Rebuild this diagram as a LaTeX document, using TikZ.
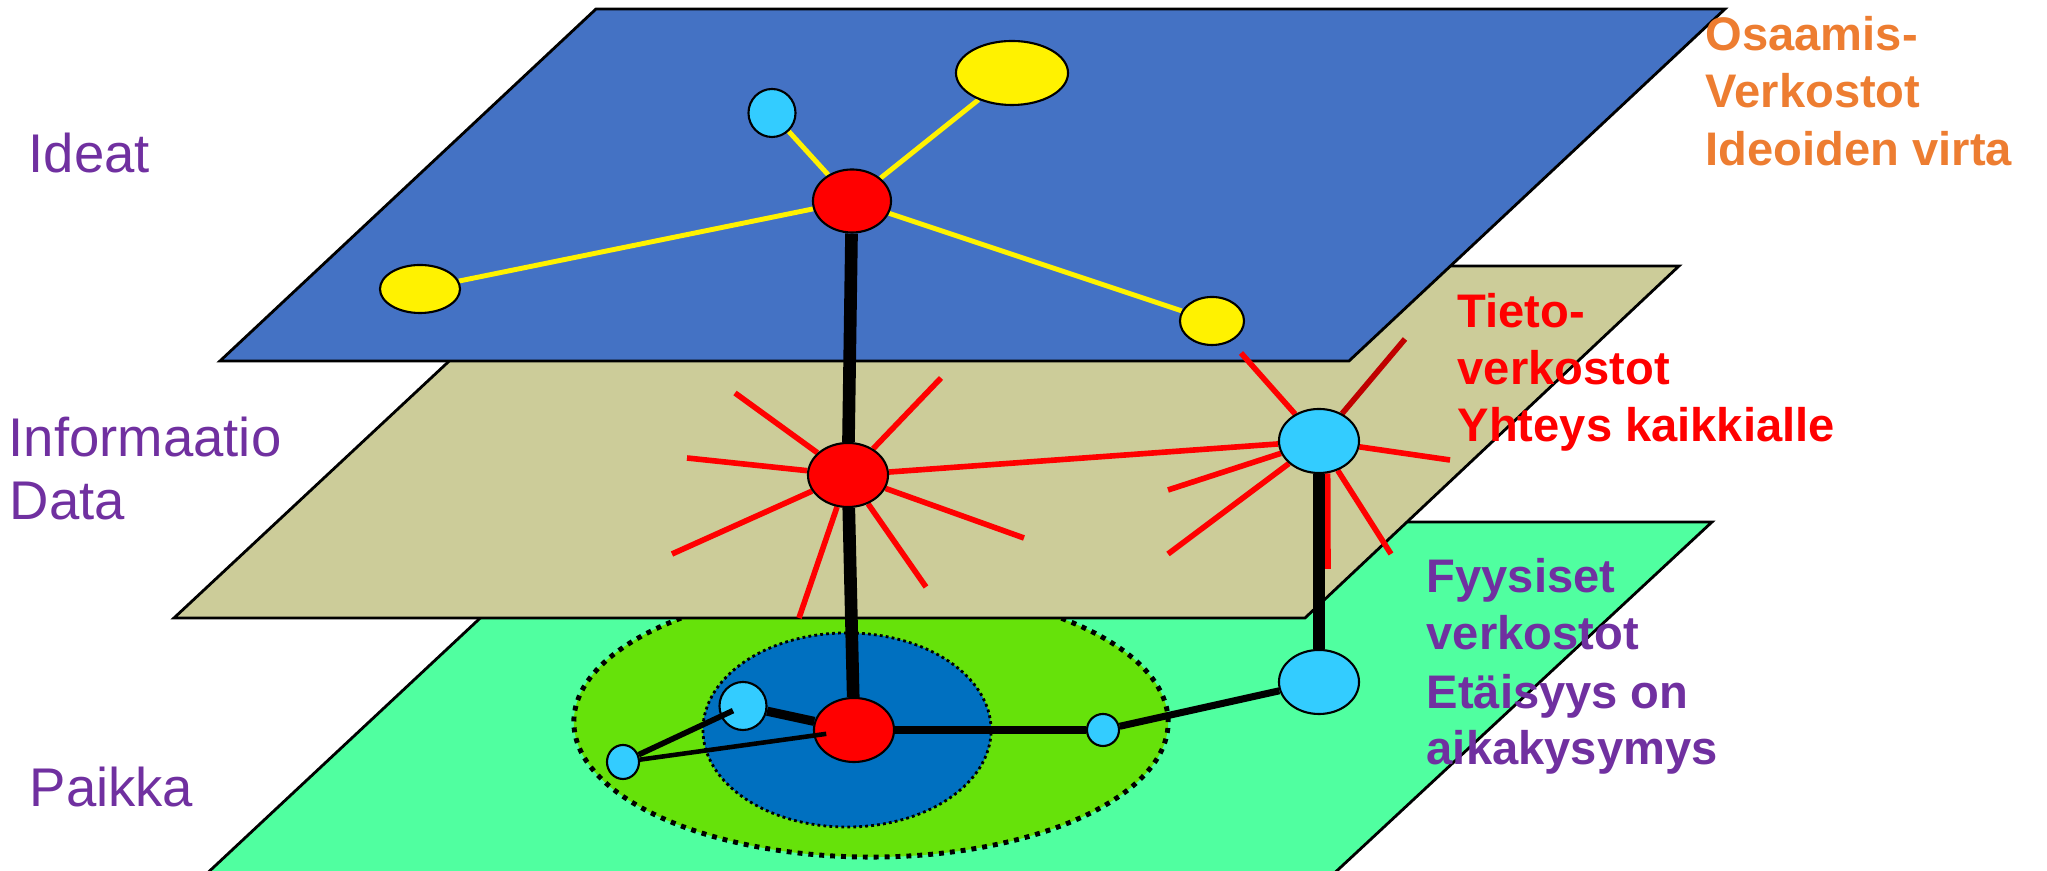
\documentclass[tikz,border=0pt]{standalone}
\usepackage{fontspec}
\setmainfont{Liberation Sans}
\usetikzlibrary{shapes.geometric}

\definecolor{ideablue}{HTML}{4472C4}
\definecolor{infotan}{HTML}{CCCC99}
\definecolor{placegreen}{HTML}{50FFA0}
\definecolor{areagreen}{HTML}{66E20A}
\definecolor{areablue}{HTML}{0070C0}
\definecolor{nodecyan}{HTML}{33CCFF}
\definecolor{darkred}{HTML}{C00000}
\definecolor{labpurple}{HTML}{7030A0}
\definecolor{laborange}{HTML}{ED7D31}

\pgfdeclarelayer{back}
\pgfdeclarelayer{edges}
\pgfdeclarelayer{front}
\pgfsetlayers{back,edges,main,front}

\tikzset{
  plane/.style={draw=black, line width=0.8pt},
  dot/.style={ellipse, draw=black, line width=0.6pt, inner sep=0pt},
  ray/.style={red, line width=1.6pt},
  yline/.style={yellow, line width=1.4pt},
  bar/.style={black, line width=3.6pt},
  leftlab/.style={anchor=base west, text=labpurple, inner sep=0pt,
    font=\fontsize{15.5}{18}\selectfont},
  rightlab/.style={anchor=base west, inner sep=0pt,
    font=\bfseries\fontsize{13.4}{16}\selectfont},
}

\begin{document}
\begin{tikzpicture}[x=0.01cm, y=-0.01cm]
\useasboundingbox (0,0) rectangle (2047,871);

% idea layer nodes
\node[dot, fill=red, minimum width=0.78cm, minimum height=0.63cm] (ir) at (852,201) {};
\node[dot, fill=nodecyan, minimum width=0.47cm, minimum height=0.48cm] (ic) at (772,113) {};
\node[dot, fill=yellow, minimum width=1.12cm, minimum height=0.64cm] (iy1) at (1012,73) {};
\node[dot, fill=yellow, minimum width=0.80cm, minimum height=0.48cm] (iy2) at (420,289) {};
\node[dot, fill=yellow, minimum width=0.64cm, minimum height=0.48cm] (iy3) at (1212,321) {};

% information layer nodes
\node[dot, fill=red, minimum width=0.80cm, minimum height=0.64cm] (tr) at (848,475) {};
\node[dot, fill=nodecyan, minimum width=0.80cm, minimum height=0.64cm] (tc) at (1319,441) {};

% place layer nodes
\node[dot, fill=red, minimum width=0.80cm, minimum height=0.64cm] (gr) at (854,730) {};
\node[dot, fill=nodecyan, minimum width=0.47cm, minimum height=0.48cm] (gm) at (743,706) {};
\node[dot, fill=nodecyan, minimum width=0.32cm, minimum height=0.34cm] (gl) at (623,762) {};
\node[dot, fill=nodecyan, minimum width=0.32cm, minimum height=0.32cm] (gs) at (1103,730) {};
\node[dot, fill=nodecyan, minimum width=0.80cm, minimum height=0.64cm] (gc) at (1319,682) {};

% ray ends
\foreach \x/\y [count=\i] in {735/393, 941/378, 687/458, 672/554, 799/618, 926/587, 1024/538}
  \coordinate (ta\i) at (\x,\y);
\foreach \x/\y [count=\i] in {1168/490, 1168/554, 1391/554, 1450/460, 1241/353}
  \coordinate (tb\i) at (\x,\y);
\coordinate (tdown) at (1328,569);
\coordinate (tdark) at (1405,339);

\begin{pgfonlayer}{back}
  \draw[plane, fill=placegreen] (583,522) -- (1712,522) -- (1327,880) -- (200,880) -- cycle;
  \draw[fill=areagreen, line width=1.4pt, dash pattern=on 1.4pt off 1.7pt]
    (871,722) ellipse [x radius=2.97cm, y radius=1.35cm];
  \draw[fill=areablue, line width=0.8pt, dash pattern=on 0.8pt off 0.9pt]
    (847,730) ellipse [x radius=1.44cm, y radius=0.97cm];
  \draw[plane, fill=infotan] (551,266) -- (1679,266) -- (1305,618) -- (174,618) -- cycle;
  \draw[plane, fill=ideablue] (596,9) -- (1725,9) -- (1349,361) -- (220,361) -- cycle;
\end{pgfonlayer}

\begin{pgfonlayer}{edges}
  \foreach \n in {ic,iy1,iy2,iy3}
    \draw[yline] (ir) -- (\n);
  \foreach \i in {1,...,7}
    \draw[ray] (tr) -- (ta\i);
  \draw[ray] (tr) -- (tc);
  \foreach \i in {1,...,5}
    \draw[ray] (tc) -- (tb\i);
  \draw[ray] (tc.-75) -- (tdown);
  \draw[darkred, line width=1.6pt] (tc) -- (tdark);
  \draw[bar] (ir) -- (tr);
  \draw[bar] (tr) -- (gr);
  \draw[bar] (tc) -- (gc);
  \draw[black, line width=2.6pt] (gr) -- (gm);
  \draw[black, line width=2pt] (gr) -- (gs);
  \draw[black, line width=2pt] (gs) -- (gc);
\end{pgfonlayer}

\begin{pgfonlayer}{front}
  \draw[black, line width=1.6pt, shorten >=0.11cm] (gl) -- (gm.center);
  \draw[black, line width=1.3pt, shorten >=0.28cm] (gl) -- (gr.center);
\end{pgfonlayer}

% labels
\node[leftlab] (ideat) at (28,173) {Ideat};
\node[leftlab] (info) at (8,457) {Informaatio};
\node[leftlab] (data) at (9,520) {Data};
\node[leftlab] (paikka) at (29,807) {Paikka};

\foreach \t/\y [count=\i] in {Osaamis-/51, Verkostot/108, Ideoiden virta/166}
  \node[rightlab, text=laborange] (osa\i) at (1705,\y) {\t};
\foreach \t/\y [count=\i] in {Tieto-/328, verkostot/385, Yhteys kaikkialle/442}
  \node[rightlab, text=red] (tieto\i) at (1457,\y) {\t};
\foreach \t/\y [count=\i] in {Fyysiset/593, verkostot/650, Etäisyys on/709, aikakysymys/765}
  \node[rightlab, text=labpurple] (fyys\i) at (1426,\y) {\t};
\end{tikzpicture}
\end{document}
